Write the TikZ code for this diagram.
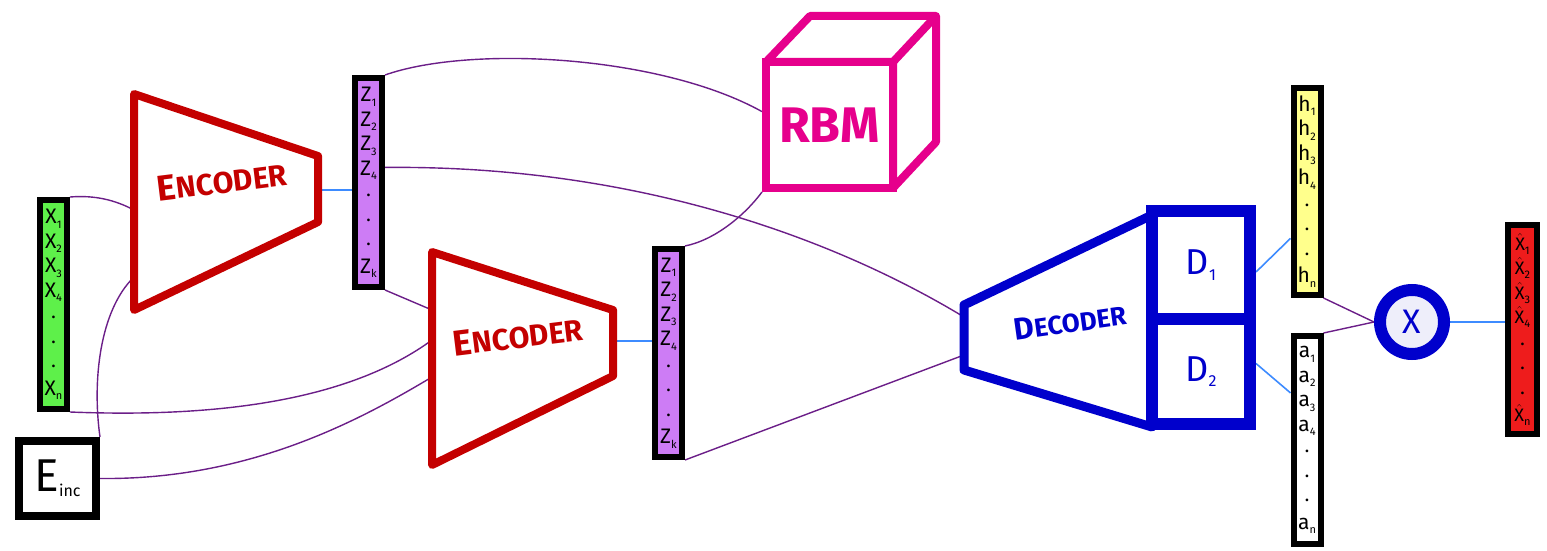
\documentclass[tikz,border=0pt]{standalone}
\usepackage{fontspec}
\setmainfont{Fira Sans}
\usetikzlibrary{calc}
\definecolor{encred}{HTML}{C40000}
\definecolor{decblue}{HTML}{0000CC}
\definecolor{rbmpink}{HTML}{E6008C}
\definecolor{zpurple}{HTML}{CD7CF5}
\definecolor{xgreen}{HTML}{5EF04A}
\definecolor{hyellow}{HTML}{FFFF8C}
\definecolor{xred}{HTML}{EE1C1C}
\definecolor{wirepurple}{HTML}{6B1E88}
\definecolor{linkblue}{HTML}{3D8BFF}
\definecolor{ringfill}{HTML}{EEEEFA}
\pgfdeclarelayer{wires}
\pgfsetlayers{wires,main}
\newcommand\sbx[1]{\raisebox{-0.4ex}{\fontsize{11}{11}\selectfont #1}}
\newcommand\vdot{{\fontsize{12}{12}\selectfont\textbullet}}
\newcommand\xh{$\hat{\mathrm{X}}$}
\begin{document}
\begin{tikzpicture}[x=1pt,y=-1pt,
  wire/.style={draw=wirepurple, line width=1.4pt},
  link/.style={draw=linkblue, line width=1.6pt},
  vecbox/.style={draw=black, line width=6pt, minimum width=27pt, minimum height=209pt,
    inner sep=0pt, align=center, font=\fontsize{21}{24.5}\selectfont, text=black},
  trap/.style={line width=8pt, line join=round, fill=white},
  capsword/.style={font=\fontsize{30}{30}\selectfont\bfseries, inner sep=0pt, rotate=7}]
\useasboundingbox (0,0) rectangle (1547,551);

% anchor points on the encoder / decoder outlines
\coordinate (e1in1) at (134,210);
\coordinate (e1in2) at (134,277);
\coordinate (e1out) at (318,190);
\coordinate (e2in1) at (432,310);
\coordinate (e2in2) at (432,340);
\coordinate (e2in3) at (432,377);
\coordinate (e2out) at (613,341);
\coordinate (din1) at (964,317);
\coordinate (din2) at (964,355);

% vector boxes
\node[vecbox, fill=xgreen] (xb) at (53.5,304.5)
  {X\sbx{1}\\X\sbx{2}\\X\sbx{3}\\X\sbx{4}\\\vdot\\\vdot\\\vdot\\X\sbx{n}};
\node[vecbox, fill=zpurple] (zb1) at (368.5,182.5)
  {Z\sbx{1}\\Z\sbx{2}\\Z\sbx{3}\\Z\sbx{4}\\\vdot\\\vdot\\\vdot\\Z\sbx{k}};
\node[vecbox, fill=zpurple, minimum height=208pt] (zb2) at (668.5,353)
  {Z\sbx{1}\\Z\sbx{2}\\Z\sbx{3}\\Z\sbx{4}\\\vdot\\\vdot\\\vdot\\Z\sbx{k}};
\node[vecbox, fill=hyellow, minimum height=207pt] (hb) at (1307,191.5)
  {h\sbx{1}\\h\sbx{2}\\h\sbx{3}\\h\sbx{4}\\\vdot\\\vdot\\\vdot\\h\sbx{n}};
\node[vecbox, fill=white, minimum height=208pt] (ab) at (1307,440)
  {a\sbx{1}\\a\sbx{2}\\a\sbx{3}\\a\sbx{4}\\\vdot\\\vdot\\\vdot\\a\sbx{n}};
\node[vecbox, fill=xred, minimum width=29pt, font=\fontsize{18}{24.5}\selectfont] (rb) at (1522.5,329.5)
  {\xh\sbx{1}\\\xh\sbx{2}\\\xh\sbx{3}\\\xh\sbx{4}\\\vdot\\\vdot\\\vdot\\\xh\sbx{n}};
\node[draw=black, fill=white, line width=8pt, minimum width=77pt, minimum height=75pt,
  inner sep=0pt, font=\fontsize{46}{46}\selectfont] (einc) at (57.5,478.5)
  {E\raisebox{-0.2ex}{\fontsize{16}{16}\selectfont inc}};

% encoders
\draw[trap, draw=encred] (134,94) -- (318,156) -- (318,222) -- (134,310) -- cycle;
\node[capsword, text=encred] (enc1) at (222,181)
  {{\fontsize{36}{36}\selectfont E}NCODER};
\draw[trap, draw=encred] (432,252) -- (613,310) -- (613,376) -- (432,465) -- cycle;
\node[capsword, text=encred] (enc2) at (518,336)
  {{\fontsize{36}{36}\selectfont E}NCODER};

% decoder with its two heads
\draw[trap, draw=decblue, line width=9pt] (964,305) -- (1152,215) -- (1152,427) -- (964,370) -- cycle;
\node[capsword, text=decblue, font=\fontsize{26}{26}\selectfont\bfseries, rotate=1] (dec) at (1070,322)
  {{\fontsize{31}{31}\selectfont D}ECODER};
\node[draw=decblue, fill=white, line width=12pt, minimum width=98pt, minimum height=108pt,
  inner sep=0pt, text=decblue, font=\fontsize{36}{36}\selectfont] (d1) at (1201,265)
  {D\raisebox{-0.3ex}{\fontsize{16}{16}\selectfont 1}};
\node[draw=decblue, fill=white, line width=12pt, minimum width=98pt, minimum height=105pt,
  inner sep=0pt, text=decblue, font=\fontsize{36}{36}\selectfont] (d2) at (1201,371.5)
  {D\raisebox{-0.3ex}{\fontsize{16}{16}\selectfont 2}};

% RBM cube
\draw[rbmpink, line width=8pt, line join=round, fill=white]
  (766,62) -- (810,16) -- (936,16) -- (936,142) -- (893,188) -- (893,62) -- cycle;
\draw[rbmpink, line width=8pt, line join=round] (893,62) -- (936,16);
\node[draw=rbmpink, fill=white, line width=8pt, minimum width=127pt, minimum height=126pt,
  inner sep=0pt, text=rbmpink, font=\fontsize{50}{50}\selectfont\bfseries] (rbm) at (829.5,125) {RBM};

% product node
\node[circle, draw=decblue, fill=ringfill, line width=12pt, minimum size=64pt, inner sep=0pt,
  text=decblue, font=\fontsize{34}{34}\selectfont] (prod) at (1412,322) {X};

% wires, kept under the outlines
\begin{pgfonlayer}{wires}
\draw[wire] (xb.north east) .. controls (95,195) and (115,200) .. (e1in1);
\draw[wire] (xb.south east) .. controls (220,418) and (350,400) .. (e2in2);
\draw[wire] (einc.north east) .. controls (92,380) and (100,310) .. (e1in2);
\draw[wire] (einc.east) .. controls (250,480) and (360,420) .. (e2in3);
\draw[wire] (zb1.south east) -- (e2in1);
\draw[wire] ($(zb1.north east)!0.43!(zb1.south east)$) .. controls (620,165) and (820,230) .. (din1);
\draw[wire] (zb2.south east) -- (din2);
\draw[wire] (zb1.north east) .. controls (470,45) and (660,55) ..
  ($(rbm.north west)!0.4!(rbm.south west)$);
\draw[wire] (zb2.north east) .. controls (715,240) and (745,215) .. (rbm.south west);
\draw[wire] (hb.south east) -- (prod.west);
\draw[wire] (ab.north east) -- (prod.west);

% blue links
\draw[link] (e1out) -- (zb1.west |- e1out);
\draw[link] (e2out) -- (zb2.west |- e2out);
\draw[link] ($(d1.east)+(0,7)$) -- ($(hb.north west)!0.72!(hb.south west)$);
\draw[link] ($(d2.east)+(0,-8)$) -- ($(ab.north west)!0.28!(ab.south west)$);
\draw[link] (prod.east) -- (prod.east -| rb.west);
\end{pgfonlayer}
\end{tikzpicture}
\end{document}
